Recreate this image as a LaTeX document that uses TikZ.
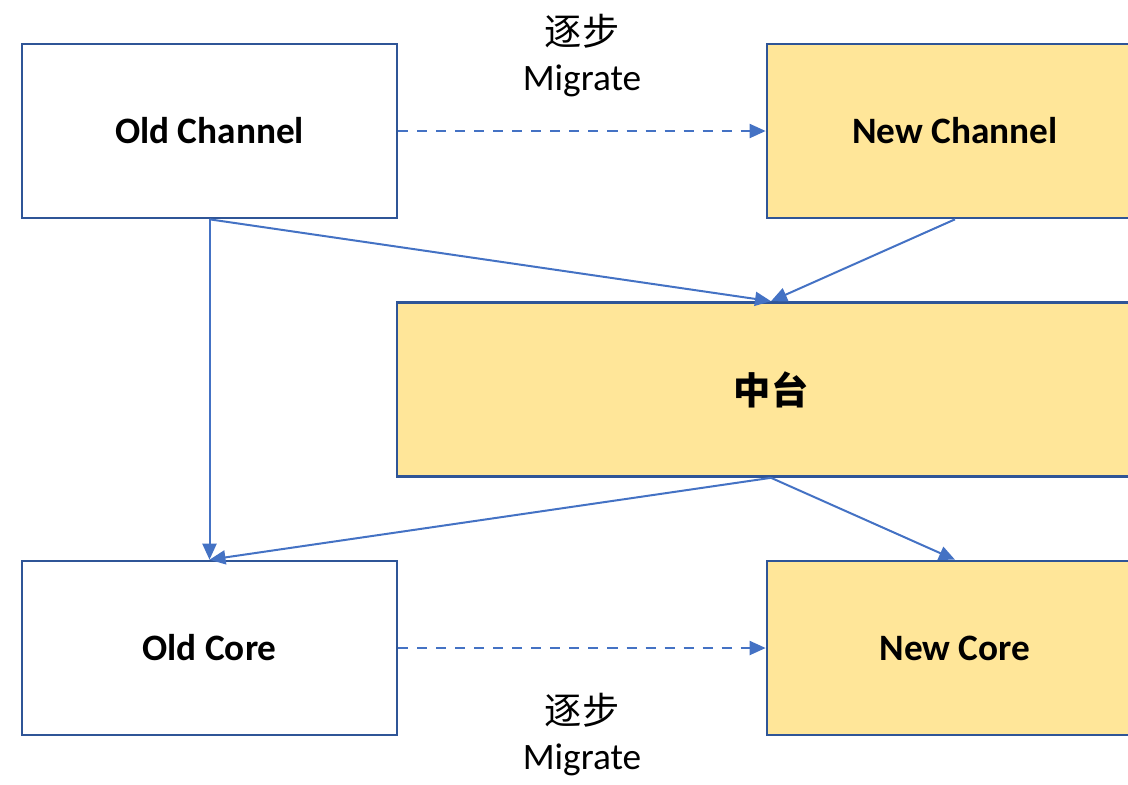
\documentclass[tikz,border=0pt]{standalone}
\usepackage{fontspec}
\setmainfont{Carlito}
\newfontfamily\cjk{Noto Sans CJK SC}
\usetikzlibrary{arrows.meta}

\tikzset{
	box/.style = {draw = boxline, line width = 0.025cm, minimum width = 3.75cm, minimum height = 1.74cm, font = \fontsize{10.6}{12.8}\selectfont\bfseries},
	newbox/.style = {box, fill = boxfill},
	link/.style = {draw = linkblue, line width = 0.02cm, -{Triangle[length = 0.16cm, width = 0.14cm]}},
	lbl/.style = {align = center, font = \fontsize{10.6}{12.8}\selectfont}
}
\definecolor{boxline}{HTML}{2F5597}
\definecolor{boxfill}{HTML}{FFE699}
\definecolor{linkblue}{HTML}{4472C4}

\begin{document}
\begin{tikzpicture}[x = 0.01cm, y = -0.01cm]
\useasboundingbox (0,0) rectangle (1128,784);

\node[box] (oldch) at (209.5,131) {Old Channel};
\node[newbox, minimum width = 3.76cm] (newch) at (955,131) {New Channel};
\node[newbox, minimum width = 7.48cm] (mid) at (771,389.5) {\cjk\bfseries 中台};
\node[box] (oldcore) at (209.5,648) {Old Core};
\node[newbox, minimum width = 3.76cm] (newcore) at (955,648) {New Core};

\draw[link, dashed, dash pattern = on 0.1cm off 0.09cm] (oldch.east) -- (newch.west)
	node[midway, lbl, yshift = 0.75cm] {{\cjk 逐步}\\Migrate};
\draw[link, dashed, dash pattern = on 0.1cm off 0.09cm] (oldcore.east) -- (newcore.west)
	node[midway, lbl, yshift = -0.86cm] {{\cjk 逐步}\\Migrate};

\draw[link] (oldch.south) -- (oldcore.north);
\draw[link] (oldch.south) -- (mid.north);
\draw[link] (newch.south) -- (mid.north);
\draw[link] (mid.south) -- (oldcore.north);
\draw[link] (mid.south) -- (newcore.north);
\end{tikzpicture}
\end{document}
